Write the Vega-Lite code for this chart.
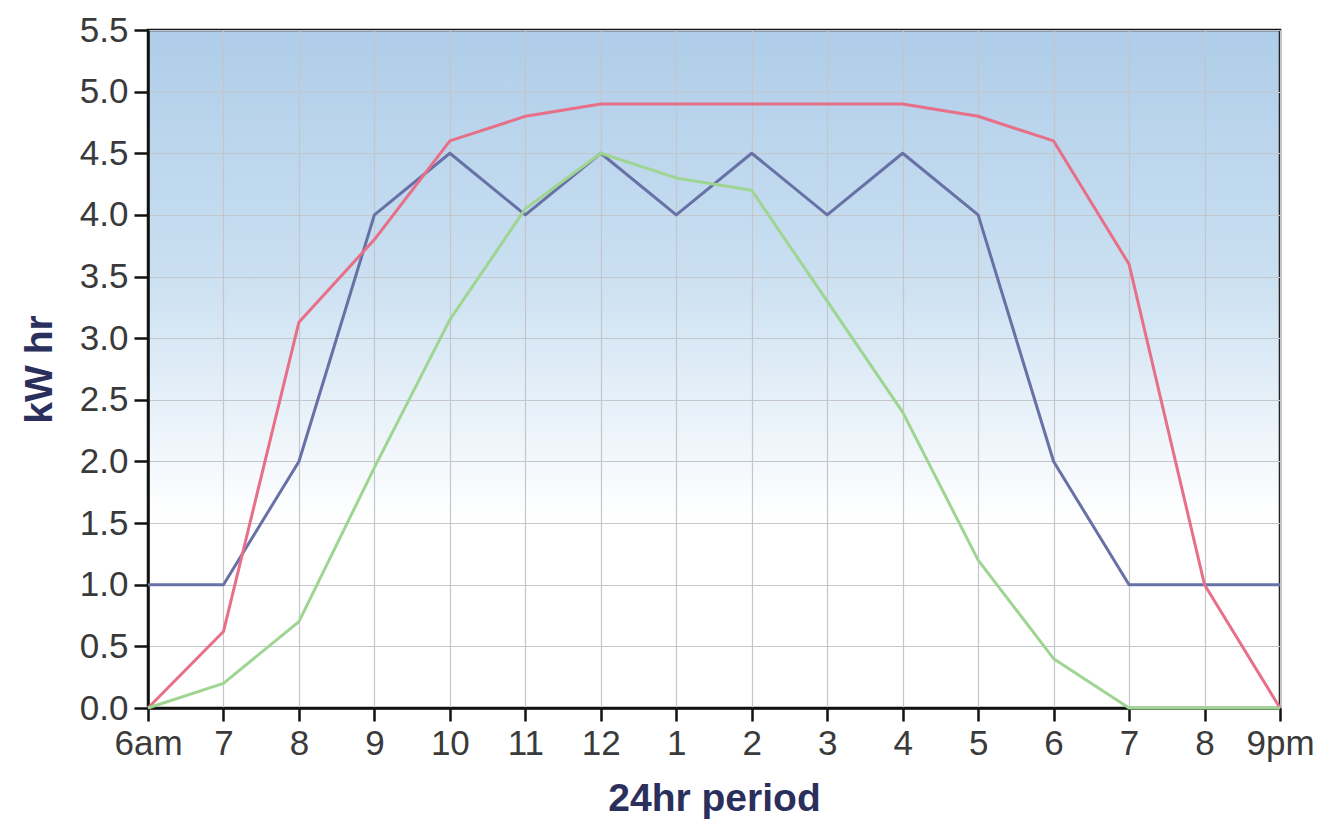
{
  "$schema": "https://vega.github.io/schema/vega-lite/v6.json",
  "width": 1132,
  "height": 678,
  "autosize": {"type": "none"},
  "padding": {"left": 148, "top": 30, "right": 43, "bottom": 113},
  "background": "#ffffff",
  "config": {
    "view": {
      "stroke": "#111111",
      "strokeWidth": 2.5,
      "fill": {
        "gradient": "linear", "x1": 0, "y1": 0, "x2": 0, "y2": 1,
        "stops": [
          {"offset": 0, "color": "#afcde9"},
          {"offset": 0.35, "color": "#c9dff1"},
          {"offset": 0.72, "color": "#ffffff"},
          {"offset": 1, "color": "#ffffff"}
        ]
      }
    },
    "font": "Liberation Sans"
  },
  "datasets": {
    "energy": [
      {"hour": 6, "series": "A", "kwh": 1.0}, {"hour": 7, "series": "A", "kwh": 1.0}, {"hour": 8, "series": "A", "kwh": 2.0}, {"hour": 9, "series": "A", "kwh": 4.0}, {"hour": 10, "series": "A", "kwh": 4.5}, {"hour": 11, "series": "A", "kwh": 4.0}, {"hour": 12, "series": "A", "kwh": 4.5}, {"hour": 13, "series": "A", "kwh": 4.0}, {"hour": 14, "series": "A", "kwh": 4.5}, {"hour": 15, "series": "A", "kwh": 4.0}, {"hour": 16, "series": "A", "kwh": 4.5}, {"hour": 17, "series": "A", "kwh": 4.0}, {"hour": 18, "series": "A", "kwh": 2.0}, {"hour": 19, "series": "A", "kwh": 1.0}, {"hour": 20, "series": "A", "kwh": 1.0}, {"hour": 21, "series": "A", "kwh": 1.0},
      {"hour": 6, "series": "B", "kwh": 0.0}, {"hour": 7, "series": "B", "kwh": 0.62}, {"hour": 8, "series": "B", "kwh": 3.13}, {"hour": 9, "series": "B", "kwh": 3.8}, {"hour": 10, "series": "B", "kwh": 4.6}, {"hour": 11, "series": "B", "kwh": 4.8}, {"hour": 12, "series": "B", "kwh": 4.9}, {"hour": 13, "series": "B", "kwh": 4.9}, {"hour": 14, "series": "B", "kwh": 4.9}, {"hour": 15, "series": "B", "kwh": 4.9}, {"hour": 16, "series": "B", "kwh": 4.9}, {"hour": 17, "series": "B", "kwh": 4.8}, {"hour": 18, "series": "B", "kwh": 4.6}, {"hour": 19, "series": "B", "kwh": 3.6}, {"hour": 20, "series": "B", "kwh": 1.0}, {"hour": 21, "series": "B", "kwh": 0.0},
      {"hour": 6, "series": "C", "kwh": 0.0}, {"hour": 7, "series": "C", "kwh": 0.2}, {"hour": 8, "series": "C", "kwh": 0.7}, {"hour": 9, "series": "C", "kwh": 1.95}, {"hour": 10, "series": "C", "kwh": 3.15}, {"hour": 11, "series": "C", "kwh": 4.05}, {"hour": 12, "series": "C", "kwh": 4.5}, {"hour": 13, "series": "C", "kwh": 4.3}, {"hour": 14, "series": "C", "kwh": 4.2}, {"hour": 15, "series": "C", "kwh": 3.3}, {"hour": 16, "series": "C", "kwh": 2.4}, {"hour": 17, "series": "C", "kwh": 1.2}, {"hour": 18, "series": "C", "kwh": 0.4}, {"hour": 19, "series": "C", "kwh": 0.0}, {"hour": 20, "series": "C", "kwh": 0.0}, {"hour": 21, "series": "C", "kwh": 0.0}
    ]
  },
  "data": {"name": "energy"},
  "mark": {"type": "line", "strokeWidth": 3, "strokeJoin": "round"},
  "encoding": {
    "x": {
      "field": "hour", "type": "quantitative",
      "scale": {"domain": [6, 21], "nice": false, "zero": false},
      "axis": {
        "values": [6,7,8,9,10,11,12,13,14,15,16,17,18,19,20,21],
        "labelExpr": "datum.value == 6 ? '6am' : datum.value == 21 ? '9pm' : (datum.value > 12 ? '' + (datum.value - 12) : '' + datum.value)",
        "labelOverlap": false, "labelFlush": false, "labelBound": false,
        "title": "24hr period",
        "titleFontSize": 39, "titleFontWeight": "bold", "titleColor": "#2b2f5c", "titlePadding": 18,
        "labelFontSize": 35, "labelColor": "#3a3a3a", "labelPadding": 5,
        "domainColor": "#111111", "domainWidth": 2.5,
        "tickColor": "#111111", "tickWidth": 2.5, "tickSize": 13,
        "grid": true, "gridColor": "#c4c6cc", "gridWidth": 1.2
      }
    },
    "y": {
      "field": "kwh", "type": "quantitative",
      "scale": {"domain": [0, 5.5], "nice": false},
      "axis": {
        "values": [0, 0.5, 1, 1.5, 2, 2.5, 3, 3.5, 4, 4.5, 5, 5.5],
        "format": ".1f",
        "labelOverlap": false, "labelFlush": false, "labelBound": false,
        "title": "kW hr",
        "titleFontSize": 39, "titleFontWeight": "bold", "titleColor": "#2b2f5c", "titlePadding": 20,
        "labelFontSize": 35, "labelColor": "#3a3a3a", "labelPadding": 6,
        "domainColor": "#111111", "domainWidth": 2.5,
        "tickColor": "#111111", "tickWidth": 2.5, "tickSize": 14,
        "grid": true, "gridColor": "#c4c6cc", "gridWidth": 1.2
      }
    },
    "color": {
      "field": "series", "type": "nominal",
      "scale": {"domain": ["A", "B", "C"], "range": ["#6871a6", "#e76f87", "#9fd592"]},
      "legend": null
    }
  }
}
